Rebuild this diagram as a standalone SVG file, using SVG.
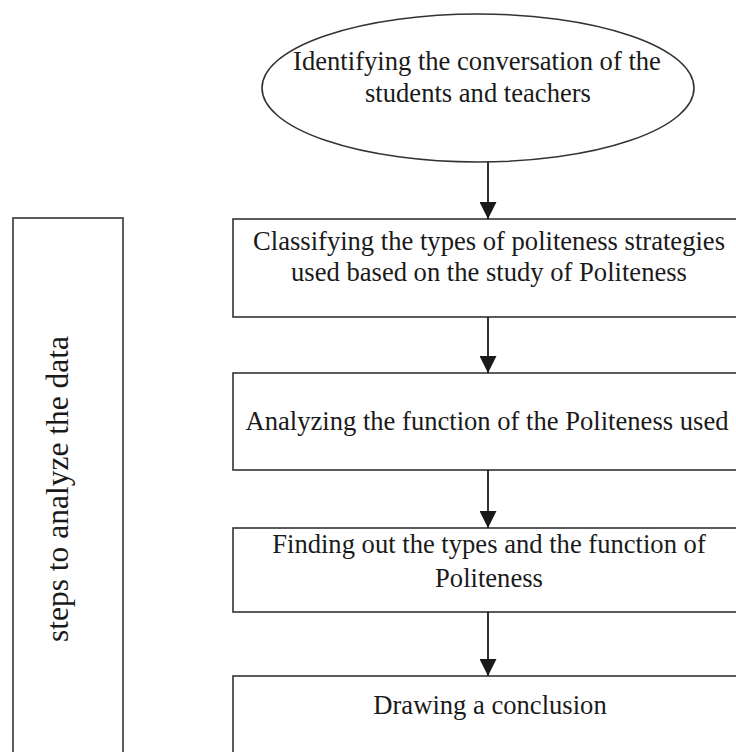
<svg xmlns="http://www.w3.org/2000/svg" width="736" height="752" viewBox="0 0 736 752">
<defs>
<style>
.shape{fill:#ffffff;stroke:#333333;stroke-width:1.6}
.t{font-family:"Liberation Serif","Times New Roman",serif;font-size:26.6px;fill:#1a1a1a;text-anchor:middle}
.v{font-family:"Liberation Serif","Times New Roman",serif;font-size:31.5px;fill:#1a1a1a;text-anchor:middle}
.conn{stroke:#1a1a1a;stroke-width:1.8;fill:none}
</style>
<marker id="arr" markerUnits="userSpaceOnUse" markerWidth="18" markerHeight="17" refX="17" refY="8.5" orient="auto">
<path d="M0,0 L17,8.5 L0,17 Z" fill="#1a1a1a"/>
</marker>
</defs>
<rect width="736" height="752" fill="#ffffff"/>
<g id="side-label">
<rect class="shape" x="13" y="218" width="110" height="560"/>
<text class="v" transform="translate(68,489) rotate(-90)">steps to analyze the data</text>
</g>
<g id="start">
<ellipse class="shape" cx="478" cy="88" rx="216" ry="74"/>
<text class="t" x="477" y="70">Identifying the conversation of the</text>
<text class="t" x="478" y="102">students and teachers</text>
</g>
<g id="step1">
<rect class="shape" x="233" y="219" width="520" height="98"/>
<text class="t" x="489" y="250">Classifying the types of politeness strategies</text>
<text class="t" x="489" y="281">used based on the study of Politeness</text>
</g>
<g id="step2">
<rect class="shape" x="233" y="373" width="520" height="97"/>
<text class="t" x="487" y="430">Analyzing the function of the Politeness used</text>
</g>
<g id="step3">
<rect class="shape" x="233" y="528" width="520" height="84"/>
<text class="t" x="489" y="553">Finding out the types and the function of</text>
<text class="t" x="489" y="587">Politeness</text>
</g>
<g id="step4">
<rect class="shape" x="233" y="676" width="520" height="100"/>
<text class="t" x="490" y="714">Drawing a conclusion</text>
</g>
<g id="connectors">
<line class="conn" x1="488" y1="162" x2="488" y2="219" marker-end="url(#arr)"/>
<line class="conn" x1="488" y1="317" x2="488" y2="373" marker-end="url(#arr)"/>
<line class="conn" x1="488" y1="470" x2="488" y2="528" marker-end="url(#arr)"/>
<line class="conn" x1="488" y1="612" x2="488" y2="676" marker-end="url(#arr)"/>
</g>
</svg>
